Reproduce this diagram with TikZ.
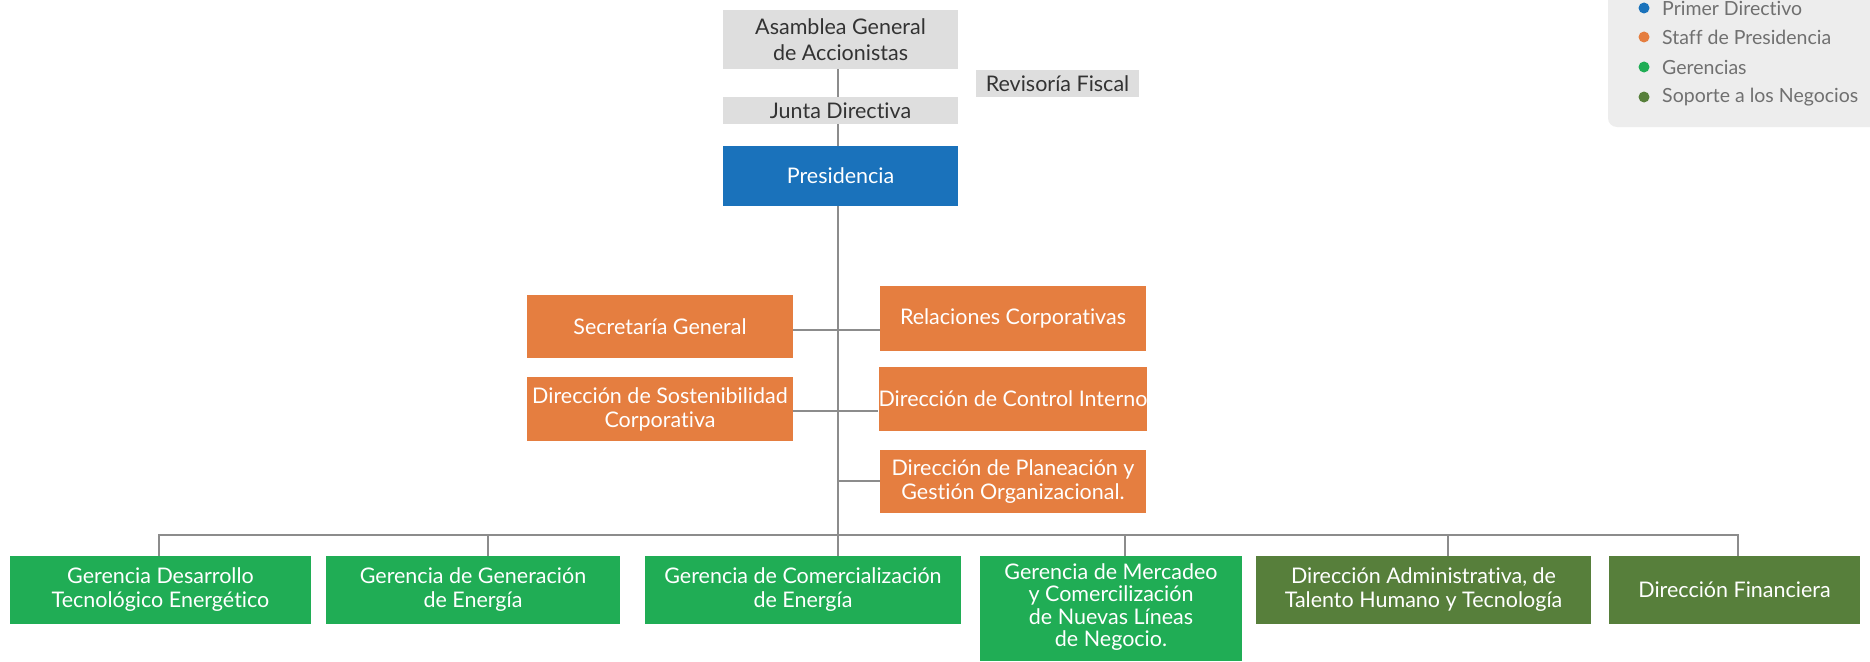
\documentclass[tikz,border=0pt]{standalone}
\usepackage{fontspec}
\setmainfont{Lato}[Ligatures={NoCommon}]
\usetikzlibrary{backgrounds}
\definecolor{graybox}{HTML}{DEDEDE}
\definecolor{graytext}{HTML}{333333}
\definecolor{presblue}{HTML}{1A72BB}
\definecolor{stafforange}{HTML}{E57E40}
\definecolor{gergreen}{HTML}{20AD55}
\definecolor{supgreen}{HTML}{577F3B}
\definecolor{linegray}{HTML}{8C8C8C}
\definecolor{legbg}{HTML}{EDEDED}
\definecolor{legtext}{HTML}{707070}
\begin{document}
\begin{tikzpicture}[x=1pt,y=-1pt,
  boxbase/.style={rectangle, inner sep=0pt, align=center},
  topbox/.style={boxbase, fill=graybox, text=graytext, font=\fontsize{21.5}{26}\selectfont},
  presbox/.style={boxbase, fill=presblue, text=white, font=\fontsize{21.5}{25}\selectfont},
  staffbox/.style={boxbase, fill=stafforange, text=white, font=\fontsize{21.5}{24}\selectfont},
  gerbox/.style={boxbase, fill=gergreen, text=white, font=\fontsize{21.5}{24}\selectfont},
  supbox/.style={boxbase, fill=supgreen, text=white, font=\fontsize{21.5}{24}\selectfont},
  conn/.style={draw=linegray, line width=2pt},
  legdot/.style={circle, inner sep=0pt, minimum size=11pt},
  legitem/.style={anchor=west, inner sep=0pt, text=legtext, font=\fontsize{19.5}{22}\selectfont}]
\useasboundingbox (0,0) rectangle (1870,661);
% legend
\begin{scope}
  \clip (0,0) rectangle (1870,661);
  \fill[legbg, rounded corners=9pt] (1608,-30) rectangle (1900,127);
\end{scope}
\node[legdot, fill=presblue] (ld1) at (1644,8) {};
\node[legdot, fill=stafforange] (ld2) at (1644,37) {};
\node[legdot, fill=gergreen] (ld3) at (1644,67) {};
\node[legdot, fill=supgreen] (ld4) at (1644,97) {};
\node[legitem] (lt1) at (1662,8) {Primer Directivo};
\node[legitem] (lt2) at (1662,37) {Staff de Presidencia};
\node[legitem] (lt3) at (1662,67) {Gerencias};
\node[legitem] (lt4) at (1662,97) {Soporte a los Negocios};
% top boxes
\node[topbox, minimum width=235pt, minimum height=59pt] (asam) at (840.5,39.5) {Asamblea General\\de Accionistas};
\node[topbox, minimum width=235pt, minimum height=27pt] (junta) at (840.5,110.5) {Junta Directiva};
\node[topbox, minimum width=163pt, minimum height=27pt] (rev) at (1057.5,83.5) {Revisoría Fiscal};
\node[presbox, minimum width=235pt, minimum height=60pt] (pres) at (840.5,176) {Presidencia};
% staff
\node[staffbox, minimum width=266pt, minimum height=63pt] (sec) at (660,326.5) {Secretaría General};
\node[staffbox, minimum width=266pt, minimum height=64pt] (sos) at (660,409) {Dirección de Sostenibilidad\\Corporativa};
\node[staffbox, minimum width=266pt, minimum height=65pt] (rel) at (1013,318.5) {Relaciones Corporativas};
\node[staffbox, minimum width=266pt, minimum height=64pt] (con) at (1013,399) {Dirección de Control Interno};
\node[staffbox, minimum width=266pt, minimum height=63pt] (pla) at (1013,481.5) {Dirección de Planeación y\\Gestión Organizacional.};
% bottom row
\node[gerbox, minimum width=301pt, minimum height=68pt] (g1) at (160.5,590) {Gerencia Desarrollo\\Tecnológico Energético};
\node[gerbox, minimum width=294pt, minimum height=68pt] (g2) at (473,590) {Gerencia de Generación\\de Energía};
\node[gerbox, minimum width=316pt, minimum height=68pt] (g3) at (803,590) {Gerencia de Comercialización\\de Energía};
\node[gerbox, minimum width=262pt, minimum height=105pt, anchor=north] (g4) at (1111,556) {};
\node[gerbox, anchor=north, font=\fontsize{21.5}{22.5}\selectfont] (g4t) at (1111,563) {Gerencia de Mercadeo\\y Comercilización\\de Nuevas Líneas\\de Negocio.};
\node[supbox, minimum width=335pt, minimum height=68pt] (d5) at (1423.5,590) {Dirección Administrativa, de\\Talento Humano y Tecnología};
\node[supbox, minimum width=251pt, minimum height=68pt] (d6) at (1734.5,590) {Dirección Financiera};
% connectors
\coordinate (trk) at (838,0);
\coordinate (busL) at (159,535);
\coordinate (busR) at (1738,535);
\coordinate (dr2) at (488,535);
\coordinate (dr4) at (1125,535);
\coordinate (dr5) at (1448,535);
\begin{scope}[on background layer]
  \fill[white] (0,0) rectangle (1870,661);
  \draw[conn] (asam.south -| trk) -- (g3.north -| trk);
  \draw[conn] (sec.east |- 0,330) -- (rel.west |- 0,330);
  \draw[conn] (sos.east |- 0,411) -- (con.west |- 0,411);
  \draw[conn] (trk |- 0,481) -- (pla.west |- 0,481);
  \draw[conn] (busL |- g1.north) -- (busL) -- (busR) -- (busR |- d6.north);
  \draw[conn] (dr2) -- (dr2 |- g2.north);
  \draw[conn] (dr4) -- (dr4 |- g4.north);
  \draw[conn] (dr5) -- (dr5 |- d5.north);
\end{scope}
\end{tikzpicture}
\end{document}
